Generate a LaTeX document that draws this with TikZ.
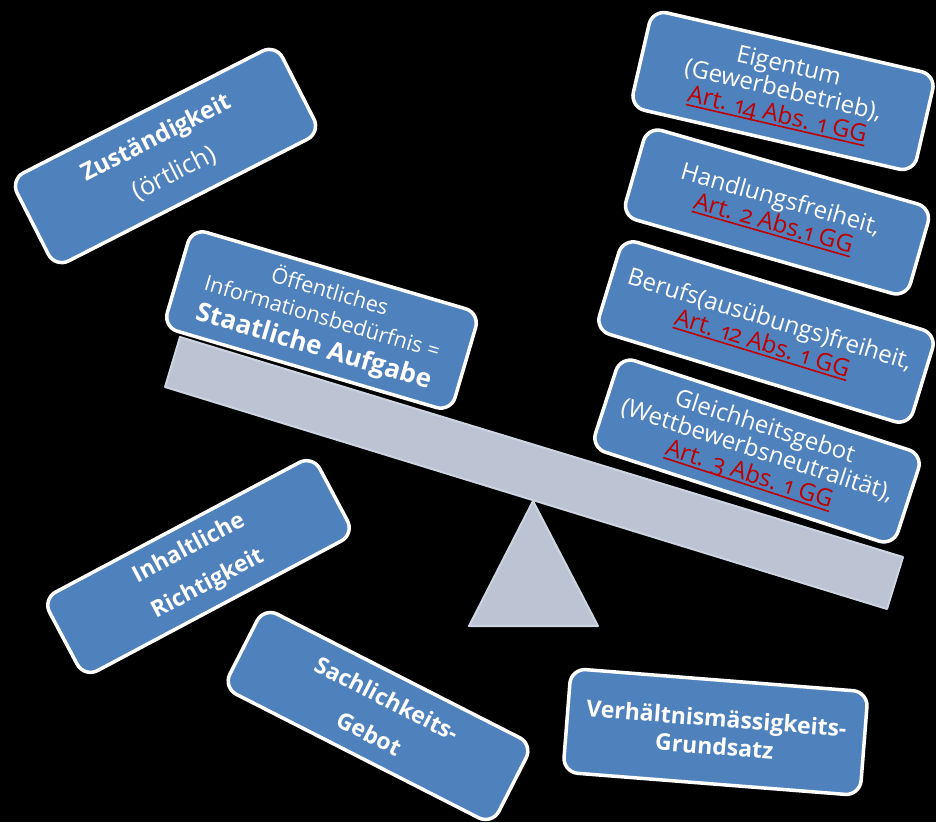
\documentclass[tikz,border=0pt]{standalone}
\usepackage{fontspec}
\setmainfont{Open Sans}[Numbers=OldStyle]
\definecolor{boxblue}{RGB}{79,129,189}
\definecolor{linkred}{RGB}{192,0,0}
\definecolor{beamfill}{RGB}{188,195,211}
\definecolor{beamedge}{RGB}{206,212,226}
\newsavebox{\lnkbox}
\newcommand{\lnk}[1]{\textcolor{linkred}{\sbox{\lnkbox}{#1}\rlap{\rule[-4pt]{\wd\lnkbox}{1.6pt}}\usebox{\lnkbox}}}
\begin{document}
\begin{tikzpicture}[x=1pt,y=-1pt,
  box/.style={draw=white, line width=3.5pt, fill=boxblue, rounded corners=15pt,
    align=center, text=white, inner sep=0pt},
  rtxt/.style={font=\fontsize{24}{25}\selectfont},
  beam/.style={fill=beamfill, draw=beamedge, line width=2pt, line join=round}]
\path[fill=black] (0,0) rectangle (936,822);
\useasboundingbox (0,0) rectangle (936,822);
% seesaw
\coordinate (t1) at (533,501);
\coordinate (t2) at (598,626);
\coordinate (t3) at (469,626);
\draw[beam] (t1) -- (t2) -- (t3) -- cycle;
\coordinate (b1) at (180,337);
\coordinate (b2) at (903,557);
\coordinate (b3) at (887,609);
\coordinate (b4) at (165,387);
\draw[beam] (b1) -- (b2) -- (b3) -- (b4) -- cycle;
% right boxes
\node[box, rtxt, rotate=-13, minimum width=291pt, minimum height=100pt] (eig) at (783,91)
  {Eigentum\\(Gewerbebetrieb),\\\lnk{Art. 14 Abs. 1 GG}};
\node[box, rtxt, rotate=-16, minimum width=296pt, minimum height=93pt] (hand) at (777,212)
  {Handlungsfreiheit,\\\lnk{Art. 2 Abs.1 GG}};
\node[box, rtxt, rotate=-17, minimum width=328pt, minimum height=96pt] (beruf) at (766,332)
  {Berufs(ausübungs)freiheit,\\\lnk{Art. 12 Abs. 1 GG}};
\node[box, rtxt, rotate=-18, minimum width=318pt, minimum height=96pt] (gleich) at (757,451)
  {Gleichheitsgebot\\(Wettbewerbsneutralität),\\\lnk{Art. 3 Abs. 1 GG}};
% centre box
\node[box, rotate=-16.4, minimum width=300pt, minimum height=103pt,
  font=\fontsize{21.5}{27}\selectfont] (oeff) at (321.5,320)
  {Öffentliches\\Informationsbedürfnis =\\[4pt]{\fontsize{26}{30}\selectfont\bfseries Staatliche Aufgabe}};
% left boxes
\node[box, rotate=27, minimum width=298pt, minimum height=99pt,
  font=\fontsize{24}{40}\selectfont] (zust) at (165.5,156)
  {\textbf{Zuständigkeit}\\{\fontsize{25.5}{30}\selectfont(örtlich)}};
\node[box, rotate=28, minimum width=306pt, minimum height=89pt,
  font=\fontsize{23}{40}\selectfont\bfseries] (inh) at (198.5,566.5)
  {Inhaltliche\\Richtigkeit};
\node[box, rotate=-27, minimum width=302pt, minimum height=90pt,
  font=\fontsize{23}{39}\selectfont\bfseries] (sach) at (378,716)
  {Sachlichkeits-\\Gebot};
\node[box, rotate=-4.5, minimum width=298pt, minimum height=104pt,
  font=\fontsize{23}{28}\selectfont\bfseries] (verh) at (715.5,732)
  {Verhältnismässigkeits-\\Grundsatz};
\end{tikzpicture}
\end{document}
